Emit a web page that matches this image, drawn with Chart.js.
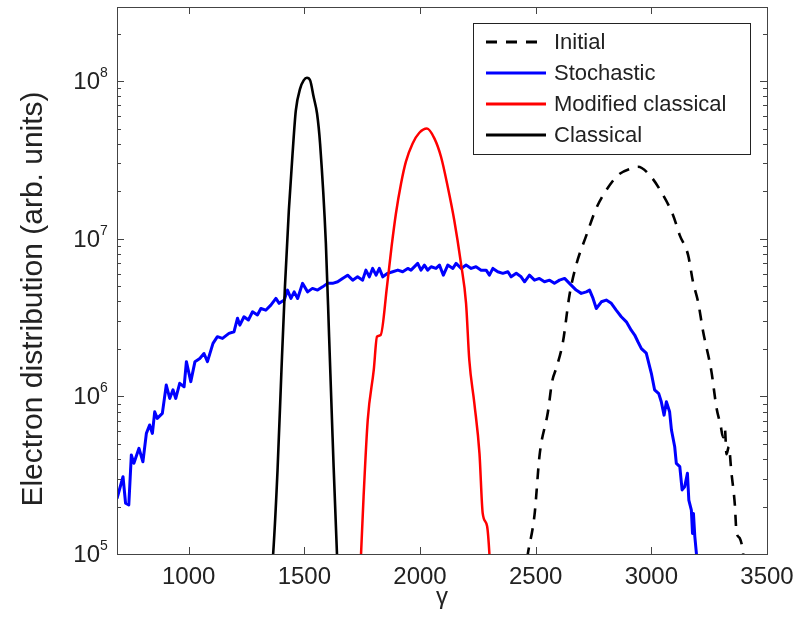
<!DOCTYPE html>
<html>
<head>
<meta charset="utf-8">
<script src="https://cdn.jsdelivr.net/npm/chart.js@4/dist/chart.umd.min.js"></script>
<style>
  html, body { margin: 0; padding: 0; background: #fff; }
  canvas { display: block; }
</style>
</head>
<body>
<canvas id="chart" width="799" height="619"></canvas>
<script>
// Electron energy distributions: initial beam and after radiation reaction
const gammaInitial = [2450, 2466, 2495, 2517, 2553, 2571, 2589, 2618, 2646, 2675, 2719, 2762, 2805, 2856, 2913, 2942, 2993, 3043, 3094, 3123, 3159, 3180, 3202, 3224, 3260, 3282, 3299, 3310, 3318, 3325, 3335, 3346, 3361, 3368, 3382, 3397, 3405];
const distInitial = [7e4, 1.0e5, 1.77e5, 4.25e5, 7.98e5, 1.24e6, 1.51e6, 2.22e6, 4.38e6, 6.8e6, 1.05e7, 1.56e7, 2.03e7, 2.53e7, 2.79e7, 2.86e7, 2.53e7, 1.98e7, 1.41e7, 1.05e7, 7.87e6, 5.33e6, 3.98e6, 2.57e6, 1.43e6, 8.4e5, 6.6e5, 5.5e5, 6.2e5, 4.3e5, 4.8e5, 3.3e5, 2.05e5, 1.38e5, 1.26e5, 1.0e5, 7e4];

const gammaStochastic = [690, 716, 727, 741, 752, 763, 785, 802, 817, 831,
  843, 853, 864, 886, 903, 918, 932, 944, 961, 980,
  990, 1009, 1027, 1048, 1066, 1081, 1105, 1124, 1146, 1174,
  1196, 1211, 1221, 1239, 1258, 1276, 1297, 1312, 1333, 1355,
  1377, 1391, 1413, 1427, 1442, 1456, 1471, 1492, 1514, 1535,
  1557, 1579, 1600, 1622, 1644, 1665, 1687, 1709, 1730, 1752,
  1766, 1781, 1795, 1810, 1824, 1839, 1860, 1882, 1904, 1925,
  1947, 1961, 1990, 2004, 2019, 2033, 2048, 2069, 2084, 2101,
  2120, 2142, 2156, 2178, 2199, 2221, 2242, 2264, 2286, 2300,
  2315, 2336, 2358, 2380, 2394, 2416, 2437, 2452, 2473, 2495,
  2516, 2538, 2560, 2581, 2603, 2625, 2646, 2661, 2675, 2697,
  2719, 2733, 2748, 2762, 2784, 2805, 2827, 2848, 2870, 2892,
  2913, 2928, 2942, 2957, 2978, 3000, 3014, 3032, 3043, 3055,
  3065, 3079, 3087, 3101, 3108, 3123, 3133, 3144, 3156, 3162,
  3173, 3178, 3182, 3188, 3195, 3205];
const distStochastic = [2.25e5, 3.09e5, 2.10e5, 2.05e5, 4.25e5, 3.76e5, 4.68e5, 3.85e5, 5.82e5, 6.58e5,
  5.82e5, 7.98e5, 7.25e5, 7.80e5, 1.18e6, 9.70e5, 1.10e6, 9.70e5, 1.21e6, 1.15e6,
  1.66e6, 1.24e6, 1.66e6, 1.74e6, 1.87e6, 1.66e6, 2.17e6, 2.39e6, 2.33e6, 2.51e6,
  2.57e6, 3.13e6, 2.83e6, 3.20e6, 3.05e6, 3.44e6, 3.28e6, 3.61e6, 3.52e6, 3.79e6,
  4.18e6, 3.89e6, 4.08e6, 4.72e6, 4.18e6, 4.60e6, 4.18e6, 5.21e6, 4.60e6, 4.84e6,
  4.72e6, 4.95e6, 5.21e6, 5.21e6, 5.33e6, 5.60e6, 5.87e6, 5.46e6, 5.73e6, 5.46e6,
  6.32e6, 5.73e6, 6.48e6, 5.87e6, 6.48e6, 5.73e6, 6.03e6, 6.17e6, 6.32e6, 6.17e6,
  6.48e6, 6.32e6, 6.97e6, 6.32e6, 6.80e6, 6.32e6, 6.64e6, 6.48e6, 6.80e6, 5.87e6,
  6.80e6, 6.48e6, 6.97e6, 6.48e6, 6.80e6, 6.48e6, 6.64e6, 6.32e6, 6.32e6, 5.87e6,
  6.48e6, 6.17e6, 6.03e6, 6.17e6, 5.73e6, 6.03e6, 5.73e6, 5.33e6, 5.87e6, 5.46e6,
  5.60e6, 5.33e6, 5.46e6, 5.21e6, 5.46e6, 5.60e6, 5.21e6, 4.95e6, 4.72e6, 4.50e6,
  4.60e6, 4.72e6, 4.18e6, 3.61e6, 3.98e6, 4.08e6, 3.89e6, 3.52e6, 3.20e6, 2.97e6,
  2.63e6, 2.45e6, 2.22e6, 2.01e6, 1.88e6, 1.40e6, 1.10e6, 1.04e6, 9.24e5, 7.60e5,
  9.24e5, 7.98e5, 6.11e5, 4.79e5, 3.76e5, 3.58e5, 2.55e5, 2.67e5, 3.25e5, 2.20e5,
  1.90e5, 1.35e5, 1.81e5, 1.29e5, 1.00e5, 7.0e4];

const gammaModified = [1740, 1745, 1756, 1774, 1800, 1814, 1830, 1857, 1877, 1896, 1918, 1939, 1968, 1997, 2030, 2062, 2091, 2120, 2148, 2177, 2199, 2213, 2235, 2257, 2271, 2290, 2300, 2305];
const distModified = [7e4, 1.0e5, 2.31e5, 7.1e5, 1.47e6, 2.39e6, 2.45e6, 4.95e6, 8.9e6, 1.45e7, 2.24e7, 3.08e7, 4.02e7, 4.70e7, 5.0e7, 4.33e7, 3.3e7, 2.13e7, 1.31e7, 6.97e6, 3.89e6, 1.70e6, 9.0e5, 4.35e5, 1.81e5, 1.50e5, 1.0e5, 7e4];

const gammaClassical = [1355, 1365, 1384, 1401, 1416, 1433, 1449, 1463, 1482, 1497, 1511, 1525, 1540, 1555, 1568, 1593, 1607, 1622, 1641, 1648];
const distClassical = [7e4, 1.0e5, 3.4e5, 1.47e6, 4.95e6, 1.52e7, 3.47e7, 6.5e7, 8.98e7, 1.01e8, 1.05e8, 1.01e8, 7.94e7, 6.2e7, 4.0e7, 9.3e6, 2.39e6, 5.5e5, 1.0e5, 7e4];

const gammaTicks = [1000, 1500, 2000, 2500, 3000, 3500];
const decadeTicks = [1e5, 1e6, 1e7, 1e8];
const decadeExponents = ['5', '6', '7', '8'];

const FONT = '"Liberation Sans", Arial, Helvetica, sans-serif';

function pairs(xs, ys) {
  return xs.map((x, i) => ({ x: x, y: ys[i] }));
}

// Frame, inward ticks, tick labels, axis titles and the boxed legend
const framePlugin = {
  id: 'frame',
  afterDraw(chart) {
    const ctx = chart.ctx;
    const a = chart.chartArea;
    const xs = chart.scales.x;
    const ys = chart.scales.y;
    ctx.save();
    ctx.strokeStyle = '#444';
    ctx.lineWidth = 1;
    ctx.strokeRect(Math.round(a.left) + 0.5, Math.round(a.top) + 0.5,
      Math.round(a.right - a.left), Math.round(a.bottom - a.top));

    ctx.beginPath();
    // x ticks, bottom and top
    gammaTicks.forEach(v => {
      const px = Math.round(xs.getPixelForValue(v)) + 0.5;
      ctx.moveTo(px, a.bottom); ctx.lineTo(px, a.bottom - 7);
      ctx.moveTo(px, a.top); ctx.lineTo(px, a.top + 7);
    });
    // y ticks (major and minor), left and right
    for (let d = 1e5; d <= ys.max; d *= 10) {
      for (let m = 1; m <= 9; m++) {
        const v = d * m;
        if (v > ys.max || v < ys.min) continue;
        const py = Math.round(ys.getPixelForValue(v)) + 0.5;
        const len = m === 1 ? 7 : 4;
        ctx.moveTo(a.left, py); ctx.lineTo(a.left + len, py);
        ctx.moveTo(a.right, py); ctx.lineTo(a.right - len, py);
      }
    }
    ctx.stroke();

    ctx.fillStyle = '#222';
    // x tick labels
    ctx.font = '24px ' + FONT;
    ctx.textAlign = 'center';
    ctx.textBaseline = 'alphabetic';
    gammaTicks.forEach(v => {
      ctx.fillText(String(v), xs.getPixelForValue(v), a.bottom + 30);
    });
    // y tick labels: 10 with superscript exponent
    decadeTicks.forEach((v, i) => {
      const py = ys.getPixelForValue(v);
      ctx.font = '24px ' + FONT;
      ctx.textAlign = 'right';
      ctx.fillText('10', 100, py + 8);
      ctx.font = '14px ' + FONT;
      ctx.textAlign = 'left';
      ctx.fillText(decadeExponents[i], 100, py - 4);
    });

    // axis titles
    ctx.font = '24px ' + FONT;
    ctx.textAlign = 'center';
    ctx.fillText('γ', (a.left + a.right) / 2, 604);
    ctx.save();
    ctx.translate(42, 299);
    ctx.rotate(-Math.PI / 2);
    ctx.font = '30px ' + FONT;
    ctx.fillText('Electron distribution (arb. units)', 0, 0);
    ctx.restore();

    // legend
    const bx = 473.5, by = 23.5, bw = 277, bh = 131;
    ctx.fillStyle = '#fff';
    ctx.fillRect(bx, by, bw, bh);
    ctx.strokeStyle = '#222';
    ctx.lineWidth = 1;
    ctx.strokeRect(bx, by, bw, bh);
    const rows = [42, 73, 104, 135];
    chart.data.datasets.forEach((ds, i) => {
      const y = rows[i];
      ctx.save();
      ctx.strokeStyle = ds.borderColor;
      ctx.lineWidth = 3;
      ctx.setLineDash(ds.borderDash || []);
      ctx.beginPath();
      ctx.moveTo(486, y); ctx.lineTo(546, y);
      ctx.stroke();
      ctx.restore();
      ctx.fillStyle = '#222';
      ctx.font = '22px ' + FONT;
      ctx.textAlign = 'left';
      ctx.textBaseline = 'middle';
      ctx.fillText(ds.label, 554, y + 1);
    });
    ctx.restore();
  }
};

new Chart(document.getElementById('chart'), {
  type: 'line',
  data: {
    datasets: [
      { label: 'Initial', data: pairs(gammaInitial, distInitial), borderColor: '#000000',
        borderWidth: 2.6, borderDash: [11, 9], cubicInterpolationMode: 'monotone', order: 0 },
      { label: 'Stochastic', data: pairs(gammaStochastic, distStochastic), borderColor: '#0000ff',
        borderWidth: 3, order: 1 },
      { label: 'Modified classical', data: pairs(gammaModified, distModified), borderColor: '#ff0000',
        borderWidth: 2.5, cubicInterpolationMode: 'monotone', order: 0 },
      { label: 'Classical', data: pairs(gammaClassical, distClassical), borderColor: '#000000',
        borderWidth: 2.6, cubicInterpolationMode: 'monotone', order: 0 }
    ]
  },
  options: {
    responsive: false,
    animation: false,
    devicePixelRatio: 1,
    layout: { padding: { left: 117, right: 32, top: 7, bottom: 65 } },
    elements: {
      point: { radius: 0, hoverRadius: 0 },
      line: { tension: 0, fill: false, borderCapStyle: 'butt', borderJoinStyle: 'round' }
    },
    datasets: { line: { clip: 0 } },
    scales: {
      x: { type: 'linear', min: 690, max: 3500, display: false },
      y: { type: 'logarithmic', min: 1e5, max: 2.95e8, display: false }
    },
    plugins: {
      legend: { display: false },
      tooltip: { enabled: false }
    }
  },
  plugins: [framePlugin]
});
</script>
</body>
</html>
